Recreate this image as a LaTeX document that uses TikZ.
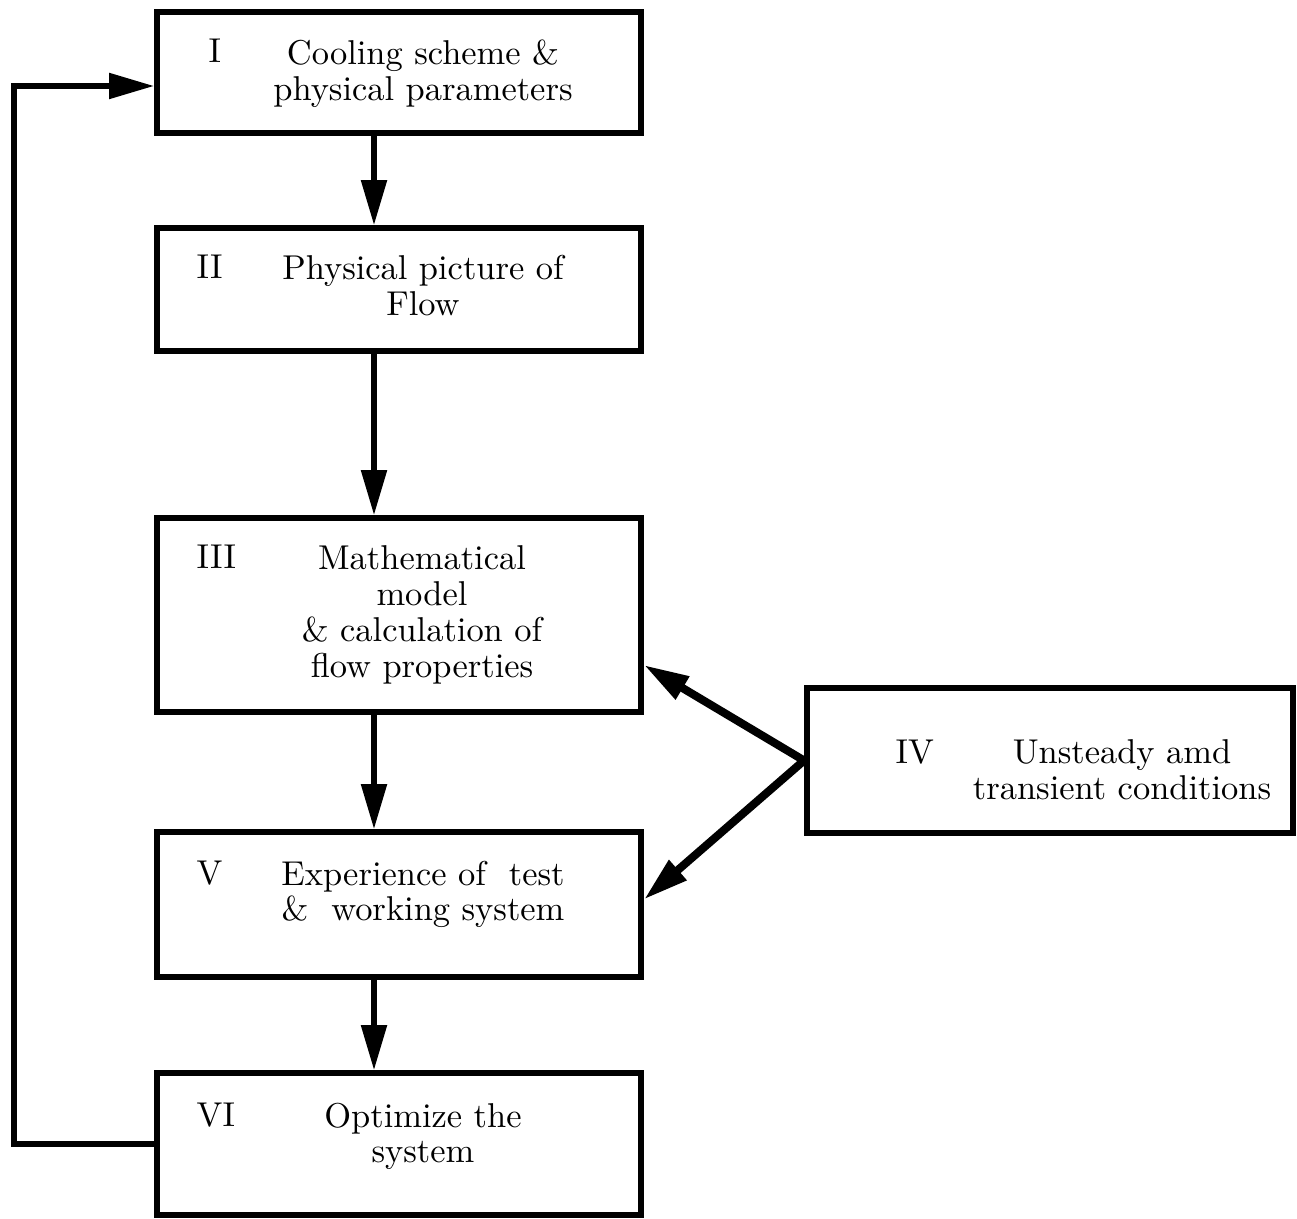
\documentclass[tikz,border=0pt]{standalone}
\usetikzlibrary{arrows.meta}
\begin{document}
\begin{tikzpicture}[x=0.01cm,y=-0.01cm,
  box/.style={draw,line width=1.6pt,minimum width=4.84cm,inner sep=0pt},
  txt/.style={anchor=north,align=center,inner sep=0pt,font=\fontsize{9.8}{10.2}\selectfont},
  num/.style={anchor=base west,inner sep=0pt,font=\fontsize{9.8}{10.2}\selectfont},
  arr/.style={line width=1.5pt,-{Triangle[length=0.45cm,width=0.25cm]}}]
  \useasboundingbox (0,0) rectangle (1297,1219);
  \node[box,minimum height=1.21cm] (b1) at (399,72.5) {};
  \node[box,minimum height=1.23cm] (b2) at (399,289.5) {};
  \node[box,minimum height=1.94cm] (b3) at (399,615) {};
  \node[box,minimum height=1.45cm] (b5) at (399,904.5) {};
  \node[box,minimum height=1.42cm] (b6) at (399,1144) {};
  \node[box,minimum width=4.86cm,minimum height=1.45cm] (b4) at (1050,760.5) {};
  \node[num] (n1) at (208,63) {I};
  \node[num] (n2) at (196,279) {II};
  \node[num] (n3) at (196,569) {III};
  \node[num] (n4) at (895,763) {IV};
  \node[num] (n5) at (196,884) {V};
  \node[num] (n6) at (196,1126) {VI};
  \node[txt] (t1) at (423,39) {Cooling scheme \&\\physical parameters};
  \node[txt] (t2) at (423,255) {Physical picture of\\Flow};
  \node[txt] (t3) at (422,545) {Mathematical\\model\\\& calculation of\\flow properties};
  \node[txt] (t4) at (1122,739) {Unsteady amd\\transient conditions};
  \node[txt] (t5) at (423,860) {Experience of\ \ test\\\&\ \ working system};
  \node[txt] (t6) at (423,1102) {Optimize the\\system};
  \coordinate (spine) at (374,0);
  \coordinate (loop) at (14,86);
  \draw[arr] (b1.south -| spine) -- (b2.north -| spine);
  \draw[arr] (b2.south -| spine) -- (b3.north -| spine);
  \draw[arr] (b3.south -| spine) -- (b5.north -| spine);
  \draw[arr] (b5.south -| spine) -- (b6.north -| spine);
  \draw[arr] (b6.west) -| (loop) -- (loop -| b1.west);
  \draw[arr,line width=2.3pt] (b4.west) -- ([yshift=-0.5cm]b3.east);
  \draw[arr,line width=2.3pt] (b4.west) -- ([yshift=0.05cm]b5.east);
\end{tikzpicture}
\end{document}
